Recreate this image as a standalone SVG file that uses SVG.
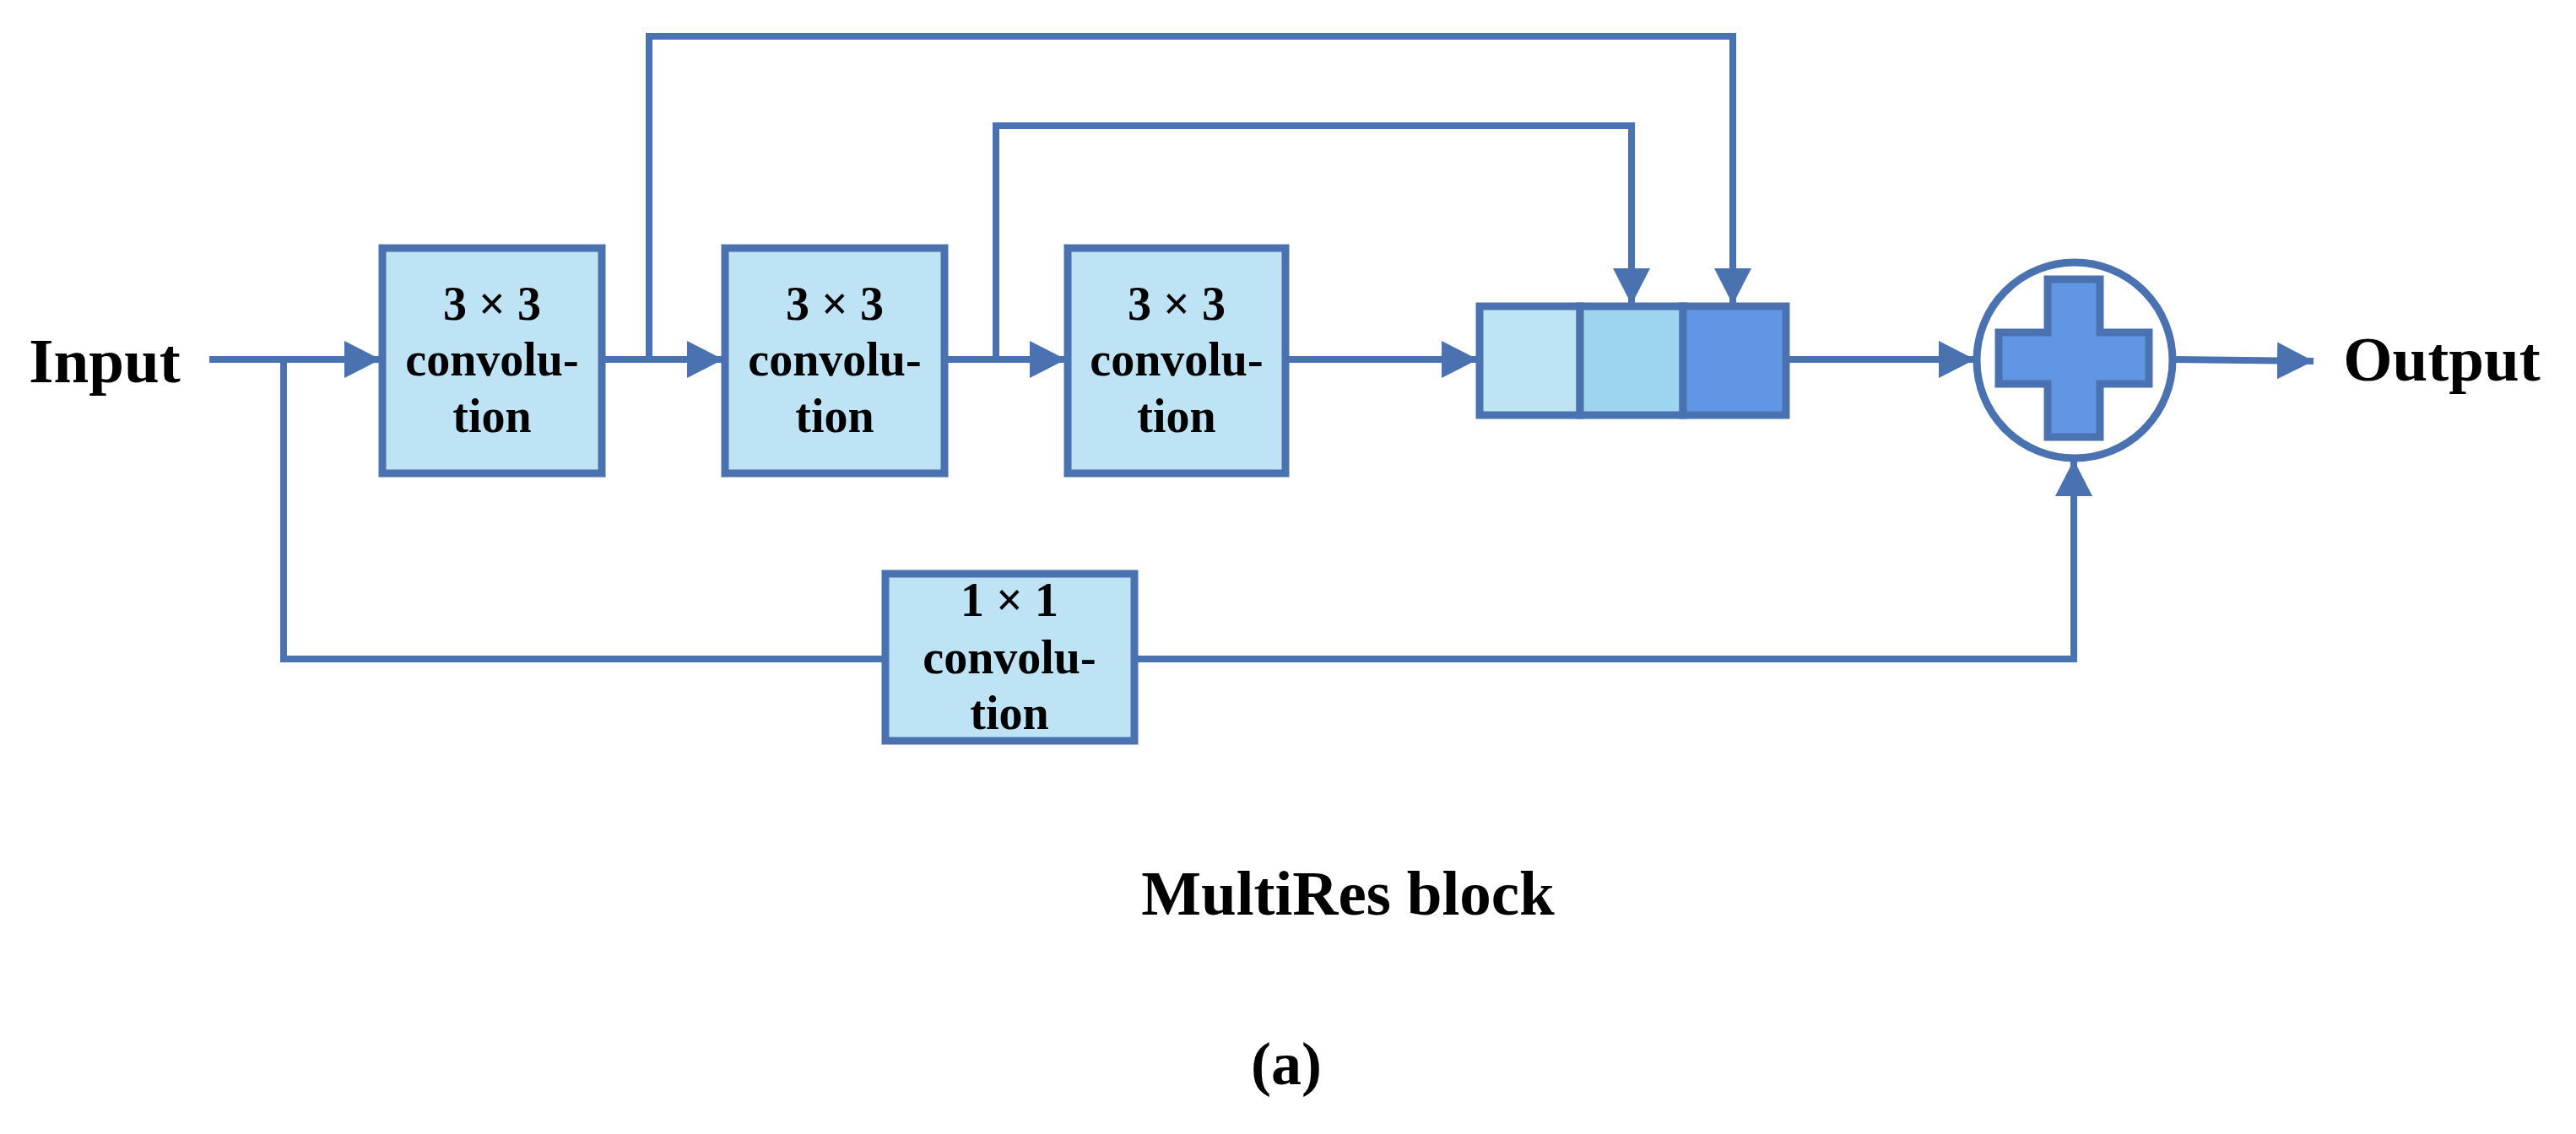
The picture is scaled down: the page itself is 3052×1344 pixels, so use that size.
<svg xmlns="http://www.w3.org/2000/svg" width="3052" height="1344" viewBox="0 0 3052 1344">
<style>
.c{fill:none;stroke:#4a72b0;stroke-width:8}
.b{fill:#bde3f5;stroke:#4a72b0;stroke-width:9}
.t{font-family:"Liberation Serif",serif;font-weight:bold;fill:#000;text-anchor:middle}
.n{font-size:56px}
</style>
<defs>
<marker id="a" markerUnits="userSpaceOnUse" markerWidth="44" markerHeight="44" refX="43" refY="22" orient="auto"><path d="M0,0 L43,22 L0,44 Z" fill="#4a72b0"/></marker>
</defs>
<rect width="3052" height="1344" fill="#fff"/>
<g id="connectors">
<path class="c" d="M248,426 H451" marker-end="url(#a)"/>
<path class="c" d="M713,426 H857" marker-end="url(#a)"/>
<path class="c" d="M1119,426 H1263" marker-end="url(#a)"/>
<path class="c" d="M1523,426 H1751" marker-end="url(#a)"/>
<path class="c" d="M2116,426 H2340" marker-end="url(#a)"/>
<path class="c" d="M2576,426 L2741,428" marker-end="url(#a)"/>
<path class="c" d="M769,426 V43 H2053 V361" marker-end="url(#a)"/>
<path class="c" d="M1180,426 V149 H1933 V361" marker-end="url(#a)"/>
<path class="c" d="M336,426 V781 H1049"/>
<path class="c" d="M1344,781 H2457 V545" marker-end="url(#a)"/>
</g>
<g id="input"><text class="t" x="124" y="453" font-size="75">Input</text></g>
<g id="conv1"><rect class="b" x="453" y="294" width="260" height="267"/>
<text class="t n" x="583" y="379">3 × 3</text>
<text class="t n" x="583" y="445">convolu-</text>
<text class="t n" x="583" y="512">tion</text></g>
<g id="conv2"><rect class="b" x="859" y="294" width="260" height="267"/>
<text class="t n" x="989" y="379">3 × 3</text>
<text class="t n" x="989" y="445">convolu-</text>
<text class="t n" x="989" y="512">tion</text></g>
<g id="conv3"><rect class="b" x="1265" y="294" width="258" height="267"/>
<text class="t n" x="1394" y="379">3 × 3</text>
<text class="t n" x="1394" y="445">convolu-</text>
<text class="t n" x="1394" y="512">tion</text></g>
<g id="conv1x1"><rect class="b" x="1049" y="680" width="295" height="198"/>
<text class="t n" x="1196" y="730">1 × 1</text>
<text class="t n" x="1196" y="798">convolu-</text>
<text class="t n" x="1196" y="864">tion</text></g>
<g id="concat">
<rect x="1753" y="363" width="119" height="129" fill="#bde3f5" stroke="#4a72b0" stroke-width="9"/>
<rect x="1872" y="363" width="122" height="129" fill="#9dd4ee" stroke="#4a72b0" stroke-width="9"/>
<rect x="1994" y="363" width="122" height="129" fill="#6096e4" stroke="#4a72b0" stroke-width="9"/>
</g>
<g id="add">
<circle cx="2458" cy="427" r="116" fill="#fff" stroke="#4a72b0" stroke-width="9"/>
<path d="M2426,331 H2488 V394 H2546 V455 H2488 V518 H2426 V455 H2368 V394 H2426 Z" fill="#6096e4" stroke="#4a72b0" stroke-width="9"/>
</g>
<g id="output"><text class="t" x="2893" y="451" font-size="75">Output</text></g>
<g id="title"><text class="t" x="1597" y="1084" font-size="75">MultiRes block</text></g>
<g id="label"><text class="t" x="1524" y="1285" font-size="72">(a)</text></g>
</svg>
